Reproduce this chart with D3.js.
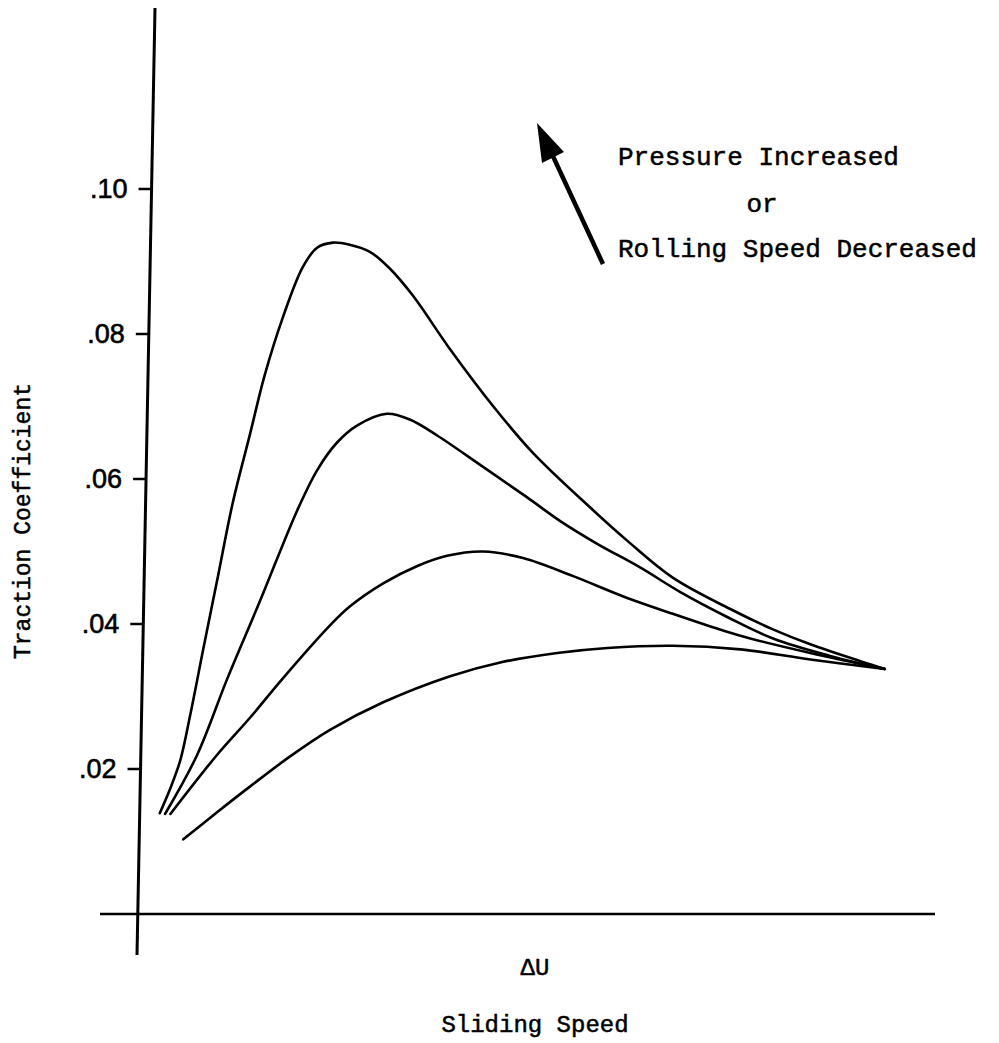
<!DOCTYPE html>
<html>
<head>
<meta charset="utf-8">
<script src="https://cdn.jsdelivr.net/npm/d3@7"></script>
<style>
  body { margin: 0; background: #fff; }
  text { fill: #000; }
</style>
</head>
<body>
<div id="chart"></div>
<script>
// Curve data: sliding speed (arbitrary ΔU units, 0-100) vs traction coefficient
const curve1 = [
  [2.6, 0.0139], [3.9, 0.0171], [5.3, 0.0212], [6.6, 0.0274], [8.3, 0.0364],
  [10.3, 0.0468], [12.2, 0.0567], [14.5, 0.0663], [16.4, 0.0743], [18.8, 0.0823],
  [21.4, 0.0892], [23.3, 0.0919], [25.4, 0.0926], [27.6, 0.0923], [30.3, 0.0913],
  [32.9, 0.0890], [35.9, 0.0853], [40.8, 0.0779], [46.5, 0.0700], [51.7, 0.0636],
  [59.2, 0.0561], [64.1, 0.0515], [70.1, 0.0464], [77.6, 0.0421], [83.2, 0.0393],
  [88.2, 0.0372], [94.7, 0.0349], [98.0, 0.0338]
];
const curve2 = [
  [3.3, 0.0138], [7.5, 0.0219], [11.5, 0.0325], [15.8, 0.0432], [20.7, 0.0557],
  [23.3, 0.0612], [25.9, 0.0650], [28.6, 0.0674], [32.5, 0.0690], [35.5, 0.0682],
  [39.1, 0.0660], [45.1, 0.0617], [50.9, 0.0575], [55.3, 0.0542], [60.1, 0.0511],
  [65.8, 0.0478], [71.1, 0.0444], [77.4, 0.0409], [83.3, 0.0380], [90.8, 0.0356],
  [98.0, 0.0338]
];
const curve3 = [
  [4.0, 0.0138], [10.1, 0.0219], [14.5, 0.0271], [18.8, 0.0325], [25.0, 0.0398],
  [27.6, 0.0424], [32.0, 0.0456], [36.5, 0.0480], [40.4, 0.0494], [45.1, 0.0500],
  [50.4, 0.0491], [57.0, 0.0466], [63.6, 0.0438], [70.1, 0.0414], [76.7, 0.0391],
  [80.3, 0.0380], [88.2, 0.0360], [98.0, 0.0338]
];
const curve4 = [
  [5.7, 0.0103], [10.1, 0.0140], [14.5, 0.0176], [19.7, 0.0217], [25.0, 0.0254],
  [32.0, 0.0292], [40.8, 0.0328], [47.4, 0.0347], [54.9, 0.0360], [61.5, 0.0367],
  [70.1, 0.0370], [79.0, 0.0365], [88.2, 0.0351], [98.0, 0.0338]
];
const curves = [curve1, curve2, curve3, curve4];

const yTicks = [0.02, 0.04, 0.06, 0.08, 0.10];
const yTickLabels = [".02", ".04", ".06", ".08", ".10"];
const noteLines = ["Pressure Increased", "or", "Rolling Speed Decreased"];

const W = 999, H = 1043;

const svg = d3.select("#chart").append("svg")
  .attr("width", W)
  .attr("height", H);

// Scales in page pixels
const x = d3.scaleLinear().domain([0, 100]).range([140, 900]);
const y = d3.scaleLinear().domain([0, 0.10]).range([914, 189]);

// The hand-drawn y axis leans slightly: x position as a function of page y
const axisX = (py) => 155 - (py - 8) * 0.019;

// Y axis line (slanted)
svg.append("line")
  .attr("x1", axisX(8)).attr("y1", 8)
  .attr("x2", axisX(955)).attr("y2", 955)
  .attr("stroke", "#000")
  .attr("stroke-width", 3);

// X axis line
svg.append("line")
  .attr("x1", 100).attr("y1", y(0))
  .attr("x2", 935).attr("y2", y(0))
  .attr("stroke", "#000")
  .attr("stroke-width", 2.5);

// Y ticks via d3 axis, then shifted to follow the slanted line
const yAxis = svg.append("g")
  .call(d3.axisLeft(y)
    .tickValues(yTicks)
    .tickFormat((d, i) => yTickLabels[i])
    .tickSize(13)
    .tickPadding(11));
yAxis.select(".domain").remove();
yAxis.selectAll(".tick")
  .attr("transform", (d) => `translate(${axisX(y(d))},${y(d)})`);
yAxis.selectAll(".tick line")
  .attr("stroke", "#000")
  .attr("stroke-width", 2.5);
yAxis.selectAll(".tick text")
  .attr("font-family", "'Liberation Sans', Arial, sans-serif")
  .attr("font-size", 27)
  .attr("stroke", "#000")
  .attr("stroke-width", 0.6)
  .attr("fill", "#000");

// Curves
const line = d3.line()
  .x((d) => x(d[0]))
  .y((d) => y(d[1]))
  .curve(d3.curveCatmullRom.alpha(0.5));

svg.selectAll(".curve")
  .data(curves)
  .enter()
  .append("path")
  .attr("class", "curve")
  .attr("d", line)
  .attr("fill", "none")
  .attr("stroke", "#000")
  .attr("stroke-width", 2.6)
  .attr("stroke-linecap", "round");

// Axis titles
const mono = "'Liberation Mono', 'DejaVu Sans Mono', monospace";

function label(sel) {
  return sel
    .attr("font-family", mono)
    .attr("stroke", "#000")
    .attr("stroke-width", 0.5);
}

svg.append("text")
  .attr("transform", "translate(30,521) rotate(-90)")
  .attr("text-anchor", "middle")
  .attr("font-size", 23)
  .call(label)
  .text("Traction Coefficient");

svg.append("text")
  .attr("x", 535).attr("y", 975)
  .attr("text-anchor", "middle")
  .attr("font-size", 24)
  .call(label)
  .text("ΔU");

svg.append("text")
  .attr("x", 535).attr("y", 1032)
  .attr("text-anchor", "middle")
  .attr("font-size", 24)
  .call(label)
  .text("Sliding Speed");

// Annotation text
svg.append("text")
  .attr("x", 618).attr("y", 165)
  .attr("font-size", 26)
  .call(label)
  .text(noteLines[0]);
svg.append("text")
  .attr("x", 762).attr("y", 212)
  .attr("text-anchor", "middle")
  .attr("font-size", 26)
  .call(label)
  .text(noteLines[1]);
svg.append("text")
  .attr("x", 618).attr("y", 257)
  .attr("font-size", 26)
  .call(label)
  .text(noteLines[2]);

// Arrow
svg.append("line")
  .attr("x1", 603).attr("y1", 264)
  .attr("x2", 551).attr("y2", 152)
  .attr("stroke", "#000")
  .attr("stroke-width", 4.5);
svg.append("path")
  .attr("d", "M537,123 L564,152 L542,163 Z")
  .attr("fill", "#000");
</script>
</body>
</html>
